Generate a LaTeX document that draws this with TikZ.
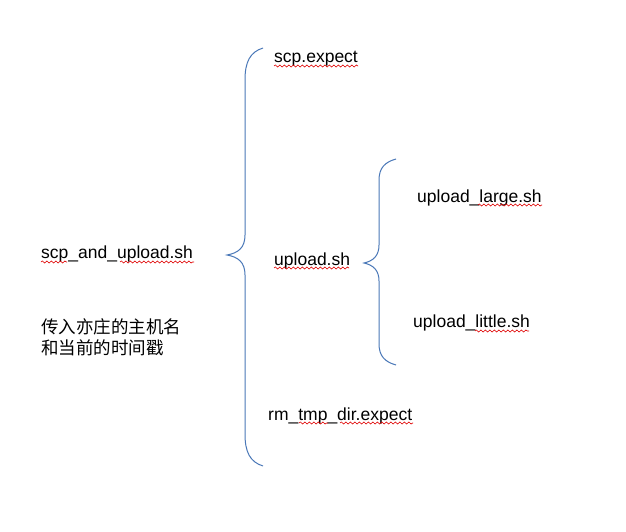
\documentclass[tikz,border=0pt]{standalone}
\usepackage{fontspec}
\setmainfont{Liberation Sans}
\newfontfamily\cjkfont{Noto Sans CJK SC}
\usetikzlibrary{decorations.pathmorphing}
\definecolor{bracecol}{HTML}{4A78B8}
\definecolor{squig}{HTML}{E00000}
\tikzset{
  lbl/.style={anchor=base west, inner sep=0pt, font=\fontsize{17.5}{22}\selectfont},
  bracestyle/.style={draw=bracecol, line width=1pt},
  squiggle/.style={draw=squig, line width=0.6pt, decorate, decoration={snake, amplitude=1pt, segment length=4.5pt}}
}
\begin{document}
\begin{tikzpicture}[x=1pt,y=-1pt]
\useasboundingbox[fill=white] (0,0) rectangle (626,532);
% big brace
\draw[bracestyle] (263,48) .. controls (250,52) and (245,62) .. (245,80)
  -- (245,235) .. controls (245,248) and (238,253) .. (227,255)
  .. controls (238,257) and (245,262) .. (245,275)
  -- (245,434) .. controls (245,452) and (250,462) .. (263,466);
% small brace
\draw[bracestyle] (396,159) .. controls (385,162) and (379,168) .. (379,180)
  -- (379,245) .. controls (379,256) and (373,261) .. (364,263)
  .. controls (373,265) and (379,270) .. (379,281)
  -- (379,344) .. controls (379,356) and (385,362) .. (396,365);
% labels
\node[lbl] (main) at (41,258) {scp\_and\_upload.sh};
\node[lbl, align=left, anchor=north west] (note) at (41,318) {\cjkfont 传入亦庄的主机名\\[-0.5pt]\cjkfont 和当前的时间戳};
\node[lbl] (scp) at (274,63) {scp.expect};
\node[lbl] (up) at (274,265) {upload.sh};
\node[lbl] (large) at (417,202) {upload\_large.sh};
\node[lbl] (little) at (413,327) {upload\_little.sh};
\node[lbl] (rm) at (268,420) {rm\_tmp\_dir.expect};
% spell-check squiggles
\draw[squiggle] (274,66) -- (358,66);
\draw[squiggle] (41,262) -- (67,262);
\draw[squiggle] (120,262) -- (194,262);
\draw[squiggle] (274,268) -- (349,268);
\draw[squiggle] (478,205) -- (542,205);
\draw[squiggle] (475,331) -- (529,331);
\draw[squiggle] (299,423) -- (328,423);
\draw[squiggle] (340,423) -- (413,423);
\end{tikzpicture}
\end{document}
